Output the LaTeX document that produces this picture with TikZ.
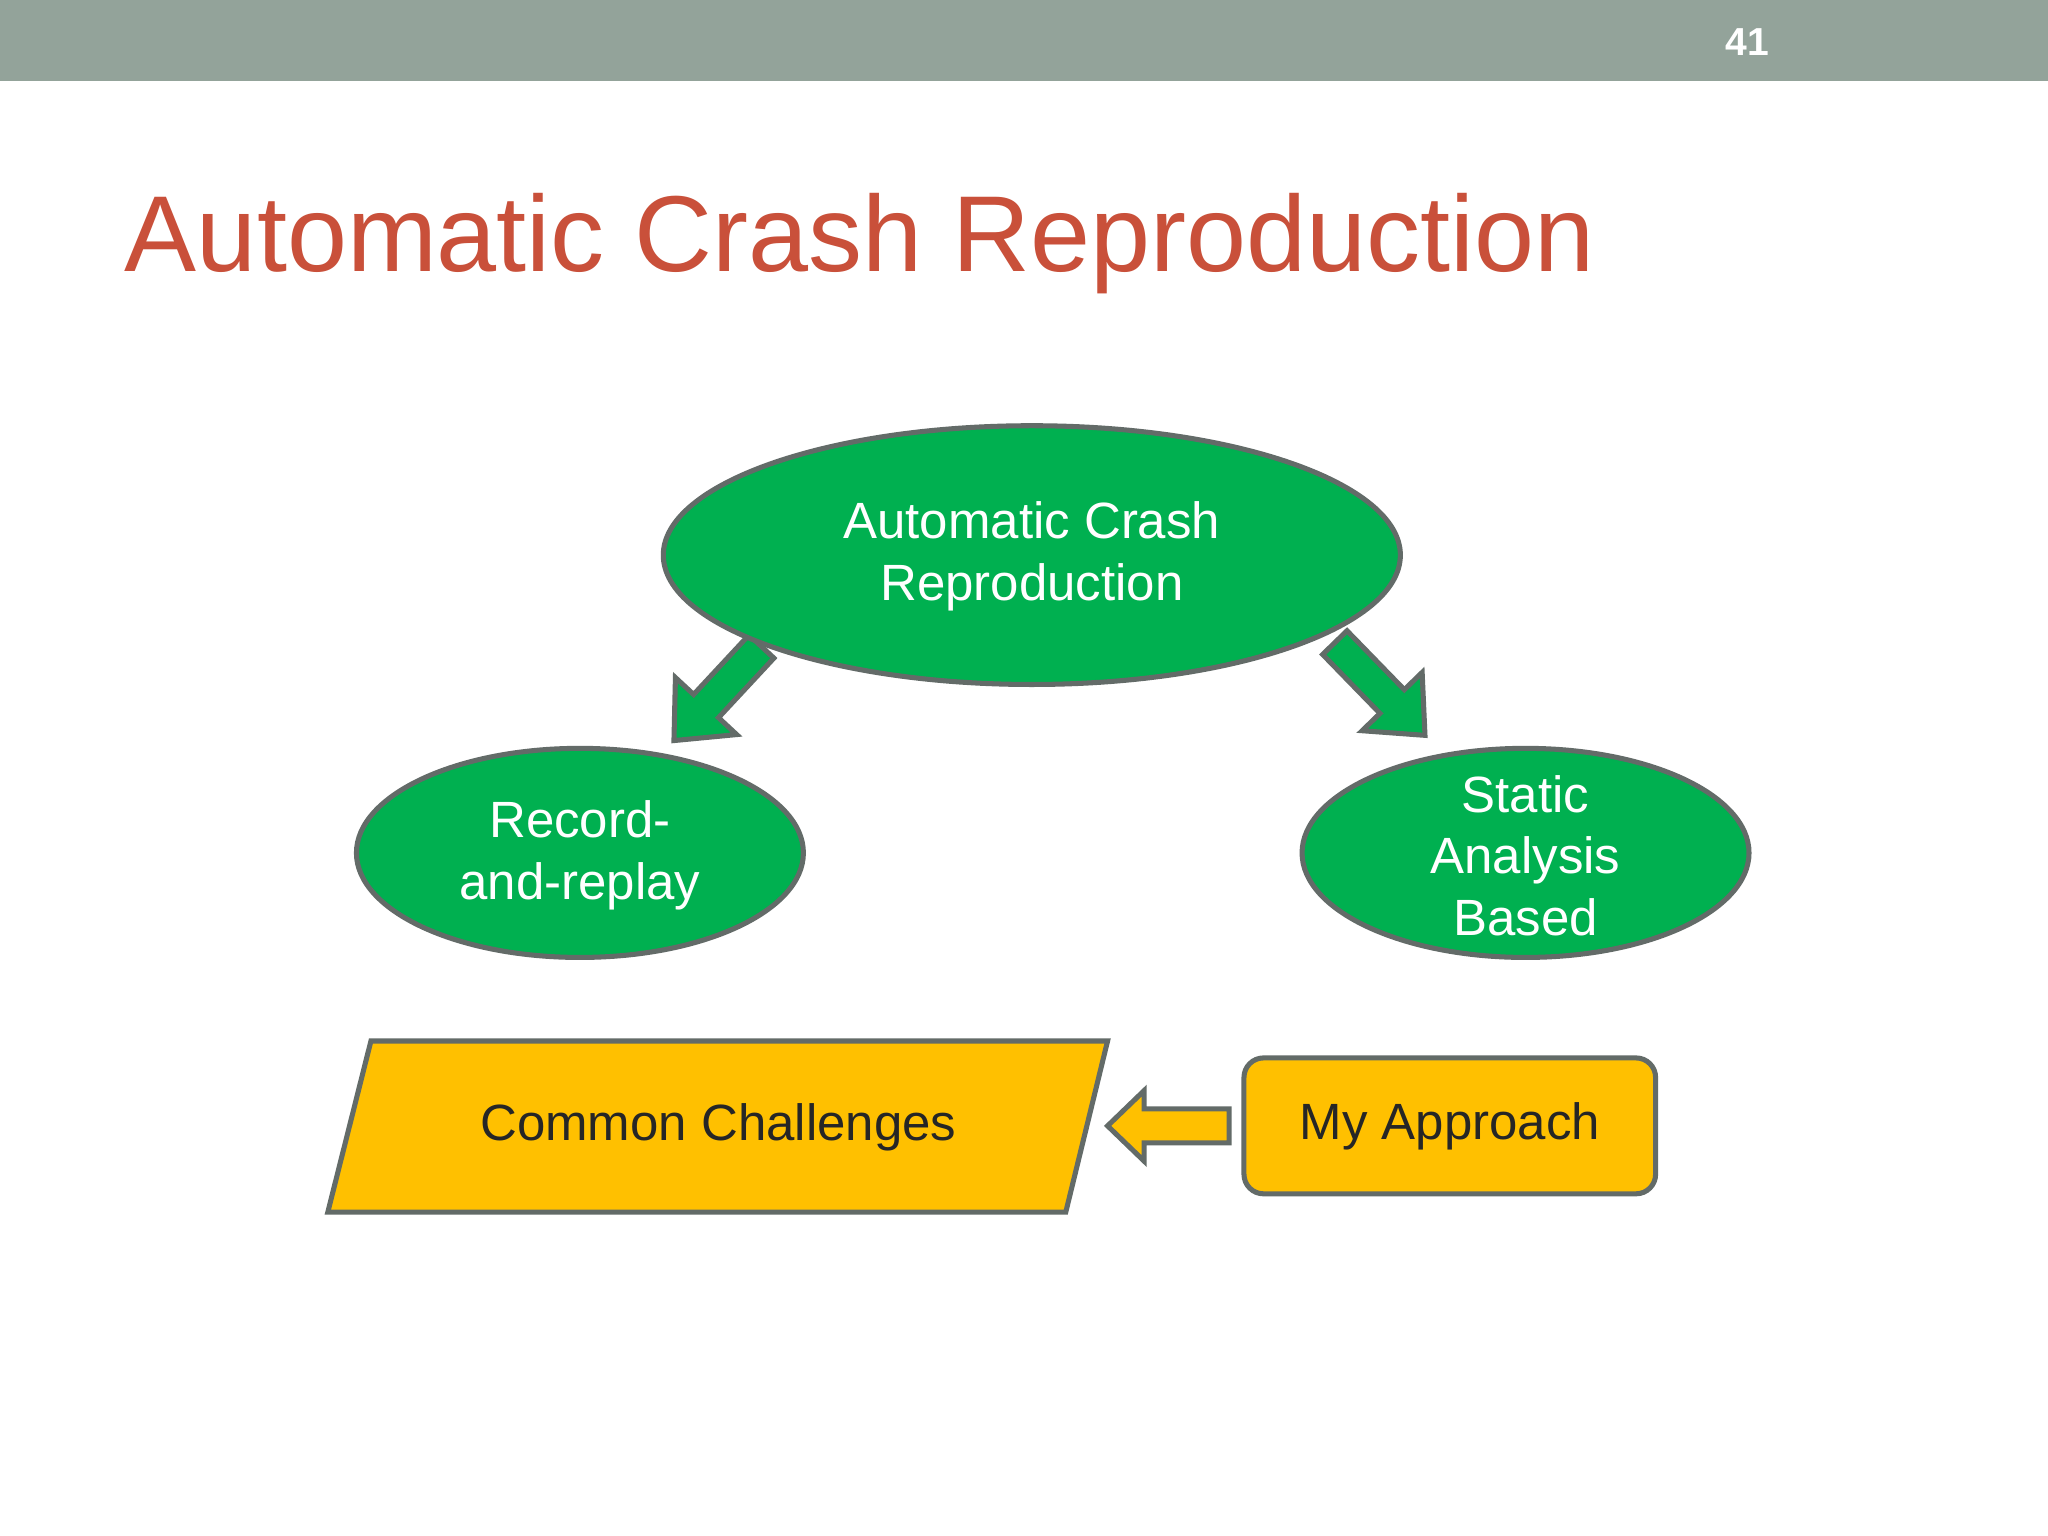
\documentclass[tikz,border=0pt]{standalone}
\usepackage{fontspec}
\setmainfont{Liberation Sans}
\usetikzlibrary{shapes.geometric,calc}
\definecolor{bar}{HTML}{93A39A}
\definecolor{ttl}{HTML}{C9503A}
\definecolor{grn}{HTML}{00B050}
\definecolor{yel}{HTML}{FFC000}
\definecolor{edge}{HTML}{636B68}
\tikzset{
  ell/.style={ellipse,fill=grn,draw=edge,line width=1.1pt,inner sep=0pt},
  etxt/.style={text=white,align=center,font=\fontsize{11.1pt}{13.4pt}\selectfont},
  blk/.style={fill=#1,draw=edge,line width=1.1pt,line join=miter},
}
\newcommand\barrow[6]{%
  \path let \p1=($(#2)-(#1)$), \n1={veclen(\x1,\y1)-#5} in
    coordinate (H) at ($(#1)!\n1!(#2)$);
  \draw[blk=#6] ($(#1)!#3!90:(#2)$) -- ($(H)!#3!-90:(#1)$) -- ($(H)!#4!-90:(#1)$) -- (#2)
    -- ($(H)!#4!90:(#1)$) -- ($(H)!#3!90:(#1)$) -- ($(#1)!#3!-90:(#2)$) -- cycle;
}
\begin{document}
\begin{tikzpicture}[x=0.01cm,y=-0.01cm]
\useasboundingbox (0,0) rectangle (1568,1176);
\fill[white] (0,0) rectangle (1568,1176);
\fill[bar] (0,0) rectangle (1568,62);
\node[text=white,font=\bfseries\fontsize{8.5pt}{10pt}\selectfont] (num) at (1338,32) {41};
\node[anchor=base west,text=ttl,font=\fontsize{23.5pt}{28pt}\selectfont,inner sep=0pt] (title) at (95,208) {Automatic Crash Reproduction};
% arrows
\coordinate (la) at (583,495); \coordinate (lb) at (516,567);
\coordinate (ra) at (1022,492); \coordinate (rb) at (1091,563);
\coordinate (ha) at (941,862); \coordinate (hb) at (848,862);
\barrow{la}{lb}{0.13cm}{0.32cm}{0.36cm}{grn}
\barrow{ra}{rb}{0.13cm}{0.32cm}{0.36cm}{grn}
\barrow{ha}{hb}{0.13cm}{0.27cm}{0.28cm}{yel}
\node[ell,minimum width=5.64cm,minimum height=1.98cm] (top) at (790,425) {};
\node[etxt] (toptxt) at (790,426) {Automatic Crash\\Reproduction};
\node[ell,minimum width=3.42cm,minimum height=1.6cm] (rr) at (444,653) {};
\node[etxt] (rrtxt) at (444,655) {Record-\\and-replay};
\node[ell,minimum width=3.42cm,minimum height=1.6cm] (sa) at (1168,653) {};
\node[etxt] (satxt) at (1168,655) {Static\\Analysis\\Based};
\draw[blk=yel] (284,797) -- (848,797) -- (816,928) -- (251,928) -- cycle;
\node[font=\fontsize{11.1pt}{14pt}\selectfont,text=black!85] (cc) at (550,863) {Common Challenges};
\node[draw=edge,fill=yel,line width=1.1pt,rounded corners=0.15cm,minimum width=3.15cm,minimum height=1.04cm,font=\fontsize{11.1pt}{14pt}\selectfont,text=black!85] (ma) at (1110,862) {My Approach};
\end{tikzpicture}
\end{document}
